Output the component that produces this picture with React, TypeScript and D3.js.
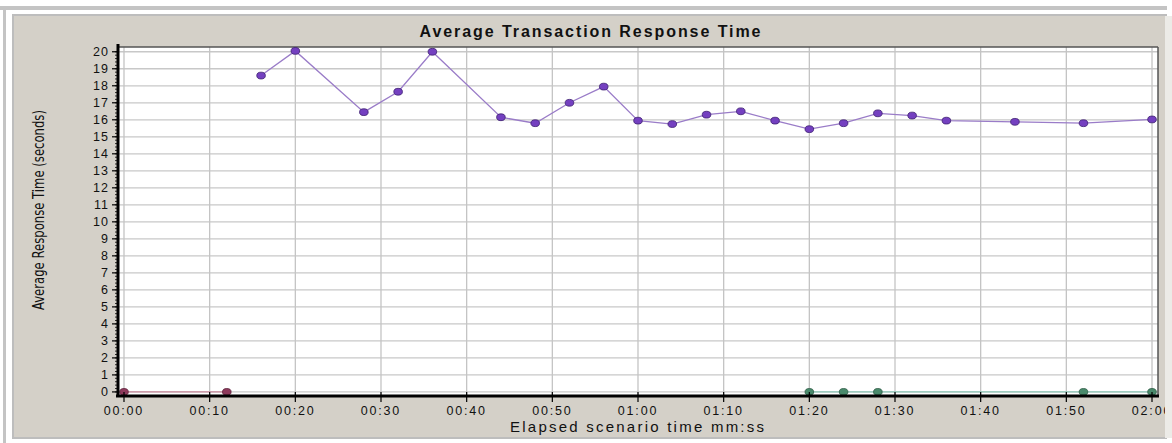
import React from "react";
import * as d3 from "d3";

const W = 1172;
const H = 443;

const title = "Average Transaction Response Time";
const yLabel = "Average Response Time (seconds)";
const xLabel = "Elapsed scenario time mm:ss";

// seconds elapsed
const purpleTimes = [16, 20, 28, 32, 36, 44, 48, 52, 56, 60, 64, 68, 72, 76, 80, 84, 88, 92, 96, 104, 112, 120];
const purpleValues = [18.6, 20.05, 16.45, 17.65, 20.0, 16.15, 15.8, 17.0, 17.95, 15.95, 15.75, 16.3, 16.5, 15.95, 15.45, 15.8, 16.38, 16.25, 15.95, 15.88, 15.8, 16.02];
const redTimes = [0, 12];
const redValues = [0, 0];
const greenTimes = [80, 84, 88, 112, 120];
const greenValues = [0, 0, 0, 0, 0];

const xTicks = [0, 10, 20, 30, 40, 50, 60, 70, 80, 90, 100, 110, 120];
const yTicks = d3.range(0, 21);

const fmt = (s: number) => {
  const m = Math.floor(s / 60);
  const ss = s % 60;
  return `${String(m).padStart(2, "0")}:${String(ss).padStart(2, "0")}`;
};

const PL = 118, PR = 1158, PT = 47, PB = 396;

export default function App() {
  const x = d3.scaleLinear().domain([-0.7, 120.7]).range([PL, PR]);
  const y = d3.scaleLinear().domain([-0.24, 20.28]).range([PB, PT]);

  const series = [
    { t: redTimes, v: redValues, line: "#c98a9c", fill: "#8e3a5c", stroke: "#5a1f38" },
    { t: greenTimes, v: greenValues, line: "#8cc8b8", fill: "#4a8a6c", stroke: "#2c5a44" },
    { t: purpleTimes, v: purpleValues, line: "#9a7cc8", fill: "#7440c0", stroke: "#3c1e70" },
  ];

  const lineGen = d3
    .line<[number, number]>()
    .x((d) => x(d[0]))
    .y((d) => y(d[1]));

  const minorTicks = d3.range(0, 20.01, 0.2);

  return (
    <div style={{ position: "absolute", left: 0, top: 0 }}>
      <svg width={W} height={H} style={{ display: "block", fontFamily: "'Liberation Sans', Arial, sans-serif" }}>
        <defs>
          <clipPath id="panelClip">
            <rect x={14} y={16} width={1151} height={421} />
          </clipPath>
        </defs>
        <rect x={0} y={0} width={W} height={H} fill="#ffffff" />
        {/* outer frame lines */}
        <rect x={0} y={6} width={1167} height={4} fill="#c4c4c4" />
        <rect x={3} y={6} width={3} height={437} fill="#c4c4c4" />
        {/* panel */}
        <rect x={13} y={15} width={1153} height={423} fill="#d4d0c8" stroke="#bdbdbd" strokeWidth={2} />
        <rect x={1165} y={16} width={7} height={422} fill="#ecebe7" />

        {/* title */}
        <text x={590} y={37} textAnchor="middle" fontSize={16} fontWeight="bold" fill="#111" textLength={341} lengthAdjust="spacing">
          {title}
        </text>

        {/* plot area */}
        <rect x={PL} y={PT} width={PR - PL} height={PB - PT} fill="#ffffff" />
        {yTicks.map((t) => (
          <line key={"hy" + t} x1={PL} x2={PR} y1={y(t)} y2={y(t)} stroke="#c8c8c8" strokeWidth={1.3} />
        ))}
        {xTicks.map((t) => (
          <line key={"vx" + t} x1={x(t)} x2={x(t)} y1={PT} y2={PB} stroke="#c4c4c4" strokeWidth={1.3} />
        ))}
        <line x1={PL} x2={PR} y1={PT} y2={PT} stroke="#555" strokeWidth={1.5} />
        <line x1={PR} x2={PR} y1={PT} y2={PB} stroke="#555" strokeWidth={1.5} />

        {/* series */}
        {series.map((s, i) => {
          const pts = s.t.map((t, j) => [t, s.v[j]] as [number, number]);
          return (
            <g key={"s" + i}>
              <path d={lineGen(pts) || ""} fill="none" stroke={s.line} strokeWidth={1.3} />
              {pts.map((p, j) => (
                <ellipse key={j} cx={x(p[0])} cy={y(p[1])} rx={4.3} ry={3.4} fill={s.fill} stroke={s.stroke} strokeWidth={0.8} />
              ))}
            </g>
          );
        })}

        {/* y axis */}
        <line x1={PL} x2={PL} y1={PT - 3} y2={PB + 1} stroke="#000" strokeWidth={3} />
        {minorTicks.map((t, i) => (
          <line key={"mt" + i} x1={PL - 3} x2={PL} y1={y(t)} y2={y(t)} stroke="#000" strokeWidth={0.8} />
        ))}
        {yTicks.map((t) => (
          <g key={"yt" + t}>
            <line x1={PL - 6} x2={PL} y1={y(t)} y2={y(t)} stroke="#000" strokeWidth={1.2} />
            <text x={PL - 9} y={y(t) + 4.5} textAnchor="end" fontSize={12.5} fill="#111" letterSpacing={1}>
              {t}
            </text>
          </g>
        ))}

        {/* x axis */}
        <line x1={PL - 2} x2={PR + 1} y1={PB} y2={PB} stroke="#000" strokeWidth={3} />
        <g clipPath="url(#panelClip)">
          {xTicks.map((t) => (
            <g key={"xt" + t}>
              <line x1={x(t)} x2={x(t)} y1={PB - 4} y2={PB + 6} stroke="#000" strokeWidth={1.2} />
              <text x={x(t)} y={415} textAnchor="middle" fontSize={12.5} fill="#111" letterSpacing={1.8}>
                {fmt(t)}
              </text>
            </g>
          ))}
        </g>

        {/* axis labels */}
        <text x={637} y={432} textAnchor="middle" fontSize={15} fill="#111" textLength={254} lengthAdjust="spacing">
          {xLabel}
        </text>
        <text
          transform={`translate(44,210) rotate(-90)`}
          textAnchor="middle"
          fontSize={15.5}
          fill="#111"
          style={{ fontFamily: "'Liberation Sans Narrow', 'Arial Narrow', 'DejaVu Sans Condensed', sans-serif" }}
          textLength={200}
          lengthAdjust="spacingAndGlyphs"
        >
          {yLabel}
        </text>
      </svg>
    </div>
  );
}
